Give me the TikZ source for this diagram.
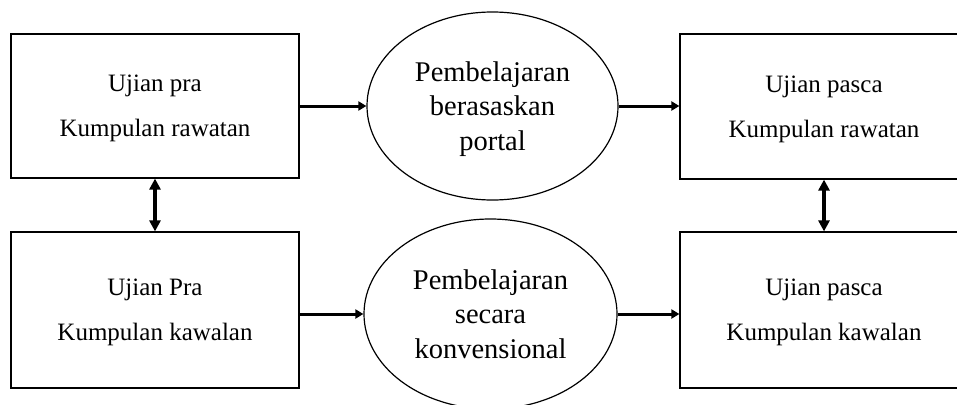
\documentclass[tikz,border=0pt]{standalone}
\usepackage{fontspec}
\setmainfont{Liberation Serif}
\usetikzlibrary{shapes.geometric,arrows.meta}
\begin{document}
\begin{tikzpicture}[x=1pt,y=-1pt,
  box/.style={draw, line width=1.2pt, rectangle, minimum width=288pt, inner sep=0pt, align=center, text depth=0pt, font=\fontsize{25pt}{45pt}\selectfont},
  oval/.style={draw, line width=1.2pt, ellipse, inner sep=0pt, align=center, text depth=0pt, font=\fontsize{28.5pt}{34.5pt}\selectfont},
  flow/.style={line width=3pt, -{Triangle[length=8pt,width=9pt]}},
  link/.style={line width=3.5pt, {Triangle[length=11pt,width=11pt]}-{Triangle[length=11pt,width=11pt]}}]
\path[use as bounding box] (0,0) rectangle (957,404);
\clip (0,0) rectangle (957,404);
\node[box, minimum height=144pt] (lt) at (155,106) {Ujian pra\\Kumpulan rawatan};
\node[box, minimum height=156pt] (lb) at (155,310) {Ujian Pra\\Kumpulan kawalan};
\node[box, minimum height=145pt] (rt) at (824,106.5) {Ujian pasca\\Kumpulan rawatan};
\node[box, minimum height=156pt] (rb) at (824,310) {Ujian pasca\\Kumpulan kawalan};
\node[oval, minimum width=251pt, minimum height=188pt] (et) at (492.5,106) {Pembelajaran\\berasaskan\\portal};
\node[oval, minimum width=253pt, minimum height=190pt] (eb) at (490.5,314) {Pembelajaran\\secara\\konvensional};
\draw[flow] (lt.east) -- (et.west);
\draw[flow] (et.east) -- (et.east -| rt.west);
\draw[flow] (eb.west -| lb.east) -- (eb.west);
\draw[flow] (eb.east) -- (eb.east -| rb.west);
\draw[link] (lt.south) -- (lb.north);
\draw[link] (rt.south) -- (rb.north);
\end{tikzpicture}
\end{document}
